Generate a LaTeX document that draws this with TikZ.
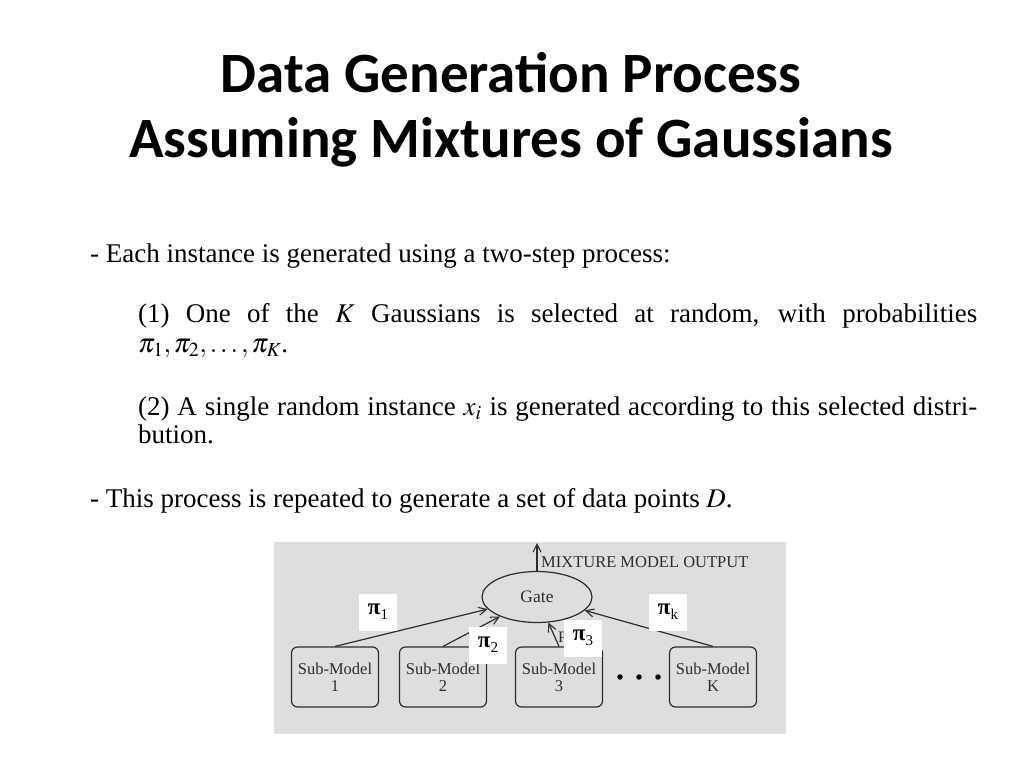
\documentclass[tikz,border=0pt]{standalone}
\usepackage{mathptmx}
\usepackage{fontspec}
\setmainfont{Liberation Serif}
\newfontfamily\titlefont{Carlito}
\usetikzlibrary{shapes.geometric,arrows.meta}
\definecolor{diagbg}{RGB}{222,222,222}
\definecolor{diagline}{RGB}{45,45,45}
\newcommand{\pisub}[1]{\textbf{π}\raisebox{-0.45ex}{\fontsize{15}{15}\selectfont #1}}
\tikzset{
  titletext/.style={font=\titlefont\bfseries\fontsize{57}{60}\selectfont, anchor=base},
  bodytext/.style={font=\fontsize{27}{31}\selectfont, anchor=base west, inner sep=0pt},
  submodel/.style={draw=diagline, line width=1.2pt, rounded corners=6pt, minimum width=87pt, minimum height=60pt, align=center, font=\fontsize{16.5}{17}\selectfont, text=diagline, fill=diagbg, inner sep=1pt},
  gatenode/.style={draw=diagline, line width=1.2pt, ellipse, minimum width=110pt, minimum height=51pt, font=\fontsize{17.5}{18}\selectfont, text=diagline, inner sep=0pt},
  pilabel/.style={fill=white, minimum width=38pt, minimum height=37pt, inner sep=0pt, font=\fontsize{23}{24}\selectfont},
  feed/.style={draw=diagline, line width=1.2pt, -{Straight Barb[length=8pt,width=8pt,line width=1.1pt]}},
  dotmark/.style={circle, fill=black, minimum size=5.5pt, inner sep=0pt}
}
\begin{document}
\begin{tikzpicture}[x=1pt,y=-1pt]
\useasboundingbox (0,0) rectangle (1024,768);
\fill[white] (0,0) rectangle (1024,768);
% title
\node[titletext] (t1) at (511,92) {Data Generation Process};
\node[titletext] (t2) at (511,157) {Assuming Mixtures of Gaussians};
% body
\node[bodytext] (l1) at (90,262) {- Each instance is generated using a two-step process:};
\node[bodytext] (l2) at (138,322) {\makebox[839pt][s]{(1) One of the $K$ Gaussians is selected at random, with probabilities}};
\node[bodytext] (l3) at (138,352) {$\pi_1, \pi_2, \ldots, \pi_K$.};
\node[bodytext] (l4) at (138,415) {\makebox[839pt][s]{(2) A single random instance $x_i$ is generated according to this selected distri-}};
\node[bodytext] (l5) at (138,443) {bution.};
\node[bodytext] (l6) at (90,507) {- This process is repeated to generate a set of data points $D$.};
% diagram
\fill[diagbg] (274,542) rectangle (786,734);
\node[gatenode] (gate) at (537,597) {Gate};
\coordinate (out) at (537,543);
\draw[feed] (gate.north) -- (out);
\node[anchor=base west, font=\fontsize{16.5}{17}\selectfont, text=diagline, inner sep=0pt] (mmo) at (541,567) {MIXTURE MODEL OUTPUT};
\node[submodel] (b1) at (335,677) {Sub-Model\\1};
\node[submodel] (b2) at (443,677) {Sub-Model\\2};
\node[submodel] (b3) at (559,677) {Sub-Model\\3};
\node[submodel] (bk) at (713,677) {Sub-Model\\K};
\node[dotmark] (d1) at (620,677) {};
\node[dotmark] (d2) at (639,677) {};
\node[dotmark] (d3) at (658,677) {};
\draw[feed] (b1.north) -- (gate);
\draw[feed] (b2.north) -- (gate);
\draw[feed] (b3.north) -- (gate);
\draw[feed] (bk.north) -- (gate);
\node[anchor=base west, font=\fontsize{16}{17}\selectfont, text=diagline, inner sep=0pt] (frag) at (558,642) {P};
\node[pilabel] (p1) at (378,612) {\pisub{1}};
\node[pilabel] (p2) at (488,645) {\pisub{2}};
\node[pilabel] (p3) at (583,638) {\pisub{3}};
\node[pilabel] (pk) at (668,612) {\pisub{k}};
\end{tikzpicture}
\end{document}
